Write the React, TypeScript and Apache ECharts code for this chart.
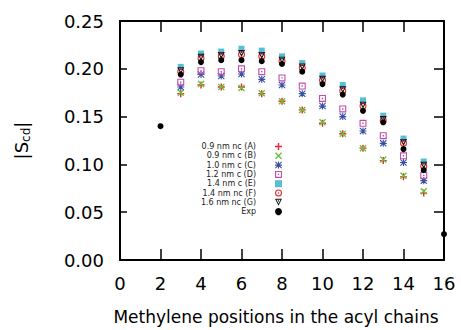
import React, { useEffect, useRef } from "react";
import * as echarts from "echarts";

const positions = [3, 4, 5, 6, 7, 8, 9, 10, 11, 12, 13, 14, 15];
const expPositions = [2, 3, 4, 5, 6, 7, 8, 9, 10, 11, 12, 13, 14, 15, 16];

const seriesNames = [
  "0.9 nm nc (A)",
  "0.9 nm c (B)",
  "1.0 nm c (C)",
  "1.2 nm c (D)",
  "1.4 nm c (E)",
  "1.4 nm nc (F)",
  "1.6 nm nc (G)",
  "Exp",
];

const valuesA = [0.174, 0.183, 0.181, 0.181, 0.174, 0.166, 0.157, 0.143, 0.132, 0.117, 0.104, 0.087, 0.070];
const valuesB = [0.175, 0.184, 0.181, 0.180, 0.1745, 0.166, 0.157, 0.144, 0.132, 0.117, 0.105, 0.088, 0.072];
const valuesC = [0.181, 0.194, 0.1925, 0.1945, 0.189, 0.183, 0.174, 0.161, 0.150, 0.135, 0.122, 0.102, 0.083];
const valuesD = [0.186, 0.198, 0.197, 0.200, 0.197, 0.1905, 0.182, 0.169, 0.158, 0.143, 0.130, 0.109, 0.0885];
const valuesE = [0.202, 0.216, 0.218, 0.221, 0.219, 0.213, 0.206, 0.193, 0.183, 0.167, 0.151, 0.127, 0.103];
const valuesF = [0.197, 0.211, 0.213, 0.215, 0.213, 0.208, 0.201, 0.188, 0.177, 0.161, 0.146, 0.122, 0.098];
const valuesG = [0.198, 0.212, 0.214, 0.216, 0.214, 0.209, 0.202, 0.189, 0.178, 0.162, 0.147, 0.123, 0.099];
const valuesExp = [0.140, 0.194, 0.207, 0.209, 0.209, 0.208, 0.205, 0.197, 0.184, 0.173, 0.156, 0.144, 0.116, 0.094, 0.027];

const xTicks = [0, 2, 4, 6, 8, 10, 12, 14, 16];
const yTicks = [0, 0.05, 0.1, 0.15, 0.2, 0.25];

const FONT = "DejaVu Sans";

const SYM_PLUS = "path://M4,0H6V4H10V6H6V10H4V6H0V4H4Z";
const SYM_X = "path://M1.4,0L5,3.6L8.6,0L10,1.4L6.4,5L10,8.6L8.6,10L5,6.4L1.4,10L0,8.6L3.6,5L0,1.4Z";
const SYM_STAR =
  "path://M4.2,0H5.8V4.2H10V5.8H5.8V10H4.2V5.8H0V4.2H4.2Z M1.1,0L5,3.9L8.9,0L10,1.1L6.1,5L10,8.9L8.9,10L5,6.1L1.1,10L0,8.9L3.9,5L0,1.1Z";
const SYM_BOXDOT = "path://M0,0H10V10H0Z M1.6,1.6V8.4H8.4V1.6Z M4,4H6V6H4Z";
const SYM_CIRCDOT =
  "path://M5,0A5,5,0,1,1,5,10A5,5,0,1,1,5,0Z M5,1.5A3.5,3.5,0,1,0,5,8.5A3.5,3.5,0,1,0,5,1.5Z M5,4A1,1,0,1,1,5,6A1,1,0,1,1,5,4Z";
const SYM_TRIDOT = "path://M0,0H10L5,10Z M2.2,1.3L5,6.9L7.8,1.3Z M4.2,2.2H5.8V3.8H4.2Z";

const styles = [
  { symbol: SYM_PLUS, color: "#e8262b", size: 7 },
  { symbol: SYM_X, color: "#6cbf3c", size: 7 },
  { symbol: SYM_STAR, color: "#3953a4", size: 7 },
  { symbol: SYM_BOXDOT, color: "#c24fae", size: 7 },
  { symbol: "rect", color: "#56bfd6", size: 6 },
  { symbol: SYM_CIRCDOT, color: "#e8262b", size: 7 },
  { symbol: SYM_TRIDOT, color: "#111111", size: 7 },
  { symbol: "circle", color: "#000000", size: 6 },
];

export default function App() {
  const ref = useRef<HTMLDivElement>(null);

  useEffect(() => {
    if (!ref.current) return;
    const chart = echarts.init(ref.current, null, { renderer: "svg" });

    const allValues = [valuesA, valuesB, valuesC, valuesD, valuesE, valuesF, valuesG, valuesExp];
    const series = allValues.map((vals, i) => {
      const xs = i === 7 ? expPositions : positions;
      return {
        name: seriesNames[i],
        type: "scatter",
        symbol: styles[i].symbol,
        symbolSize: styles[i].size,
        itemStyle: { color: styles[i].color, opacity: 1 },
        data: vals.map((v, j) => [xs[j], v]),
        xAxisIndex: 0,
        yAxisIndex: 0,
      };
    });

    const axisLine = { show: true, onZero: false, lineStyle: { color: "#000", width: 2 } };

    chart.setOption({
      animation: false,
      backgroundColor: "#ffffff",
      grid: { left: 120, right: 17, top: 21, bottom: 64, containLabel: false },
      legend: {
        orient: "vertical",
        align: "right",
        right: 174,
        top: 137.5,
        itemWidth: 7,
        itemHeight: 7,
        itemGap: 1.3,
        data: seriesNames,
        formatter: (n: string) => `{t|${n}}`,
        textStyle: {
          fontFamily: FONT,
          fontSize: 8,
          color: "#222",
          rich: { t: { fontFamily: FONT, fontSize: 8, color: "#222", padding: [0, 14, 0, 0] } },
        },
        selectedMode: false,
      },
      xAxis: [
        {
          type: "value",
          min: 0,
          max: 16,
          interval: 2,
          position: "bottom",
          axisLine,
          axisTick: { show: true, inside: true, length: 11, lineStyle: { color: "#000", width: 1.5 } },
          axisLabel: {
            fontFamily: FONT,
            fontSize: 18,
            color: "#000",
            margin: 14,
            showMinLabel: true,
            showMaxLabel: true,
            formatter: (v: number) => (xTicks.includes(v) ? String(v) : ""),
          },
          splitLine: { show: false },
          name: "Methylene positions in the acyl chains",
          nameLocation: "middle",
          nameGap: 48,
          nameTextStyle: { fontFamily: FONT, fontSize: 17, color: "#000", padding: [0, 12, 0, 0] },
        },
        {
          type: "value",
          min: 0,
          max: 16,
          interval: 2,
          position: "top",
          axisLine,
          axisTick: { show: true, inside: true, length: 11, lineStyle: { color: "#000", width: 1.5 } },
          axisLabel: { show: false },
          splitLine: { show: false },
        },
      ],
      yAxis: [
        {
          type: "value",
          min: 0,
          max: 0.25,
          interval: 0.05,
          position: "left",
          axisLine,
          axisTick: { show: true, inside: true, length: 7, lineStyle: { color: "#000", width: 1.5 } },
          axisLabel: {
            fontFamily: FONT,
            fontSize: 18,
            color: "#000",
            margin: 16,
            showMinLabel: true,
            showMaxLabel: true,
            formatter: (v: number) => {
              const hit = yTicks.find((t) => Math.abs(t - v) < 1e-9);
              return hit === undefined ? "" : hit.toFixed(2);
            },
          },
          splitLine: { show: false },
          name: "|S{sub|cd}|",
          nameLocation: "middle",
          nameRotate: 90,
          nameGap: 88,
          nameTextStyle: {
            fontFamily: FONT,
            fontSize: 18,
            color: "#000",
            rich: {
              sub: { fontFamily: FONT, fontSize: 12, color: "#000", padding: [9, 0, 0, 0] },
            },
          },
        },
        {
          type: "value",
          min: 0,
          max: 0.25,
          interval: 0.05,
          position: "right",
          axisLine,
          axisTick: { show: true, inside: true, length: 10, lineStyle: { color: "#000", width: 1.5 } },
          axisLabel: { show: false },
          splitLine: { show: false },
        },
      ],
      series,
    });

    return () => chart.dispose();
  }, []);

  return (
    <div
      ref={ref}
      style={{ position: "fixed", left: 0, top: 0, width: 461, height: 330 }}
    />
  );
}
